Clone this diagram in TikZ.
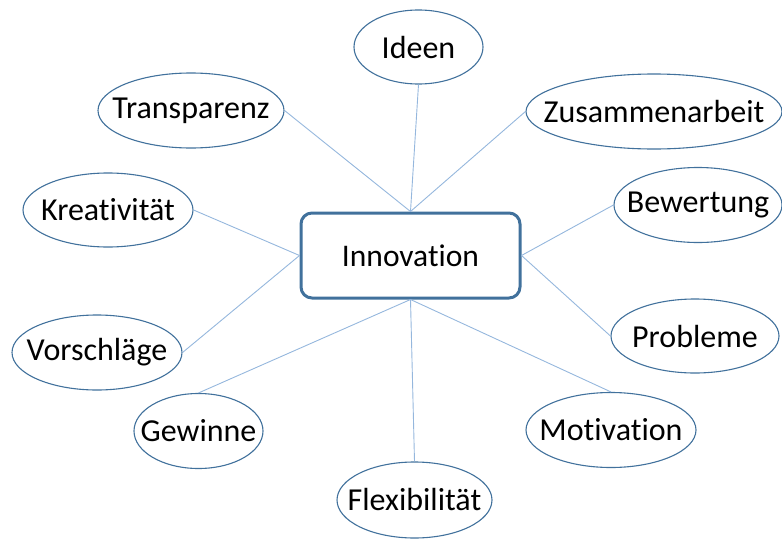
\documentclass[tikz,border=0pt]{standalone}
\usepackage{fontspec}
\setmainfont[Ligatures=NoCommon]{Carlito}
\usetikzlibrary{shapes.geometric}

\definecolor{rimblue}{HTML}{41719C}
\definecolor{spokeblue}{HTML}{95B7DD}

\tikzset{
  bubble/.style 2 args={ellipse, draw=rimblue, line width=1.1pt, fill=white,
    inner sep=0pt, minimum width=#1pt, minimum height=#2pt},
  word/.style={font=\fontsize{32}{36}\selectfont, text=black},
  hub/.style={rectangle, rounded corners=11pt, draw=rimblue, line width=3pt,
    fill=white, minimum width=219pt, minimum height=85pt,
    font=\fontsize{31.5}{36}\selectfont},
  spoke/.style={draw=spokeblue, line width=0.9pt}
}

\begin{document}
\begin{tikzpicture}[x=1pt, y=-1pt]
  \useasboundingbox (0,0) rectangle (782,541);

  % central box
  \node[hub] (inno) at (410.5,255.5) {Innovation};

  % surrounding ellipses, each with its word on top
  \node[bubble={129}{74}] (ideen) at (418.5,47) {};
  \node[word] at (ideen.center) {Ideen};
  \node[bubble={186}{75}] (trans) at (191,110.5) {};
  \node[word] at (trans.center) {Transparenz};
  \node[bubble={256}{75}] (zus) at (654,111.5) {};
  \node[word] at (zus.center) {Zusammenarbeit};
  \node[bubble={170}{74}] (krea) at (108,210) {};
  \node[word] at (krea.center) {Kreativität};
  \node[bubble={168}{75}] (bew) at (698,205) {};
  \node[word] at (bew.center) {Bewertung};
  \node[bubble={170}{75}] (vor) at (97,352.5) {};
  \node[word] at (vor.center) {Vorschläge};
  \node[bubble={168}{74}] (prob) at (695,336) {};
  \node[word] at (prob.center) {Probleme};
  \node[bubble={129}{75}] (gew) at (198.5,431) {};
  \node[word] at (gew.center) {Gewinne};
  \node[bubble={170}{75}] (moti) at (611,430) {};
  \node[word] at (moti.center) {Motivation};
  \node[bubble={155}{76}] (flex) at (414.5,500) {};
  \node[word] at (flex.center) {Flexibilität};

  % spokes from the ellipses to the box
  \draw[spoke] (trans.east) -- (inno.north);
  \draw[spoke] (ideen.south) -- (inno.north);
  \draw[spoke] (zus.west) -- (inno.north);
  \draw[spoke] (krea.east) -- (inno.west);
  \draw[spoke] (vor.east) -- (inno.west);
  \draw[spoke] (bew.west) -- (inno.east);
  \draw[spoke] (prob.west) -- (inno.east);
  \draw[spoke] (gew.north) -- (inno.south);
  \draw[spoke] (flex.north) -- (inno.south);
  \draw[spoke] (moti.north) -- (inno.south);
\end{tikzpicture}
\end{document}
